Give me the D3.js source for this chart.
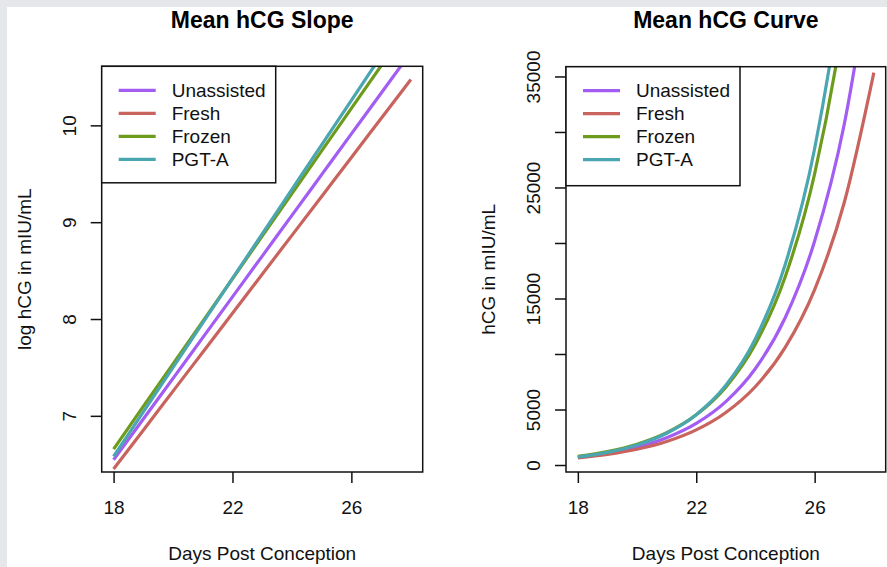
<!DOCTYPE html>
<html><head><meta charset="utf-8">
<script src="https://cdn.jsdelivr.net/npm/d3@7"></script>
<style>
html,body{margin:0;padding:0;background:#fff;}
svg{display:block;font-family:"Liberation Sans",Arial,Helvetica,sans-serif;}
</style></head>
<body>
<svg id="c" width="887" height="567"></svg>
<script>
// ---- data ----
const days = [18, 19, 20, 21, 22, 23, 24, 25, 26, 27, 28];
const seriesNames = ["Unassisted", "Fresh", "Frozen", "PGT-A"];
const seriesColors = ["#a35df2", "#c8645d", "#6d9c1d", "#4aa6b1"];
// log hCG (natural log, mIU/mL) per day
const logUnassisted = [6.546, 6.967, 7.387, 7.808, 8.229, 8.650, 9.070, 9.491, 9.912, 10.332, 10.753];
const logFresh      = [6.450, 6.852, 7.255, 7.657, 8.059, 8.462, 8.864, 9.266, 9.668, 10.071, 10.473];
const logFrozen     = [6.657, 7.097, 7.537, 7.976, 8.416, 8.856, 9.296, 9.736, 10.175, 10.615, 11.055];
const logPGTA       = [6.580, 7.040, 7.500, 7.959, 8.419, 8.879, 9.339, 9.799, 10.258, 10.718, 11.178];
const xTicks = [18, 22, 26];
const yTicksLog = [7, 8, 9, 10];
const yTicksLin = [0, 5000, 10000, 15000, 20000, 25000, 30000, 35000];
const yLabelsLin = [0, 5000, 15000, 25000, 35000];
const titles = ["Mean hCG Slope", "Mean hCG Curve"];
const yTitles = ["log hCG in mIU/mL", "hCG in mIU/mL"];
const xTitle = "Days Post Conception";

const logSeries = [logUnassisted, logFresh, logFrozen, logPGTA];

const svg = d3.select("#c");
// gray frame at top/left
svg.append("rect").attr("x",0).attr("y",0).attr("width",887).attr("height",567).attr("fill","#e6e7ea");
svg.append("rect").attr("x",7).attr("y",7).attr("width",880).attr("height",560).attr("fill","#fff");

function panel(idx, box, yDomain, yTicks, yLabels, values) {
  const x = d3.scaleLinear().domain([17.6, 28.4]).range([box.l, box.r]);
  const y = d3.scaleLinear().domain(yDomain).range([box.b, box.t]);
  const g = svg.append("g");
  const cid = "clip" + idx;
  g.append("clipPath").attr("id", cid).append("rect")
    .attr("x", box.l).attr("y", box.t).attr("width", box.r - box.l).attr("height", box.b - box.t);

  // lines
  const line = d3.line().x((d,i)=>x(days[i])).y(d=>y(d)).curve(d3.curveMonotoneX);
  values.forEach((vals, s) => {
    g.append("path").attr("d", line(vals)).attr("fill","none")
      .attr("stroke", seriesColors[s]).attr("stroke-width", 3.2)
      .attr("clip-path", `url(#${cid})`);
  });

  // box
  g.append("rect").attr("x", box.l).attr("y", box.t).attr("width", box.r - box.l).attr("height", box.b - box.t)
    .attr("fill","none").attr("stroke","#111").attr("stroke-width",1.5);

  // x axis
  const xa = g.append("g").attr("transform", `translate(0,${box.b})`)
    .call(d3.axisBottom(x).tickValues(xTicks).tickSize(11).tickPadding(25).tickFormat(d3.format("d")));
  xa.select(".domain").remove();
  xa.selectAll("line").attr("stroke","#111").attr("stroke-width",1.5);
  xa.selectAll("text").attr("font-size",19).attr("fill","#111").attr("dy",0).attr("y",42);

  // y axis
  const ya = g.append("g").attr("transform", `translate(${box.l},0)`)
    .call(d3.axisLeft(y).tickValues(yTicks).tickSize(11)
      .tickFormat(d => yLabels.includes(d) ? String(d) : ""));
  ya.select(".domain").remove();
  ya.selectAll("line").attr("stroke","#111").attr("stroke-width",1.5);
  ya.selectAll("text").attr("font-size",19).attr("fill","#111")
    .attr("transform","rotate(-90)").attr("x",0).attr("y",-26).attr("dy",0)
    .attr("text-anchor","middle");

  // titles
  const cx = (box.l + box.r) / 2;
  g.append("text").attr("x", cx).attr("y", 28).attr("text-anchor","middle")
    .attr("font-size",23).attr("font-weight","bold").attr("fill","#000").text(titles[idx]);
  g.append("text").attr("x", cx).attr("y", 560).attr("text-anchor","middle")
    .attr("font-size",19).attr("fill","#111").text(xTitle);
  const cy = (box.t + box.b) / 2;
  g.append("text").attr("transform", `translate(${box.l - 71},${cy}) rotate(-90)`)
    .attr("text-anchor","middle").attr("font-size",19).attr("fill","#111").text(yTitles[idx]);

  // legend
  const lg = g.append("g");
  lg.append("rect").attr("x", box.l).attr("y", box.t).attr("width", 174).attr("height", idx === 0 ? 116.5 : 119)
    .attr("fill","#fff").attr("stroke","#111").attr("stroke-width",1.5);
  seriesNames.forEach((n, s) => {
    const yy = box.t + 24 + s * 23;
    lg.append("line").attr("x1", box.l + 17).attr("x2", box.l + 54).attr("y1", yy).attr("y2", yy)
      .attr("stroke", seriesColors[s]).attr("stroke-width", 3.2);
    lg.append("text").attr("x", box.l + 70).attr("y", yy).attr("dy","0.35em")
      .attr("font-size",19).attr("fill","#111").text(n);
  });
}

panel(0, {l:101.7, r:422.7, t:66.3, b:472}, [6.42, 10.61], yTicksLog, yTicksLog, logSeries);
panel(1, {l:566, r:885.7, t:66.7, b:472}, [-630, 35880], yTicksLin, yLabelsLin,
      logSeries.map(arr => arr.map(v => Math.exp(v))));
</script>
</body></html>
